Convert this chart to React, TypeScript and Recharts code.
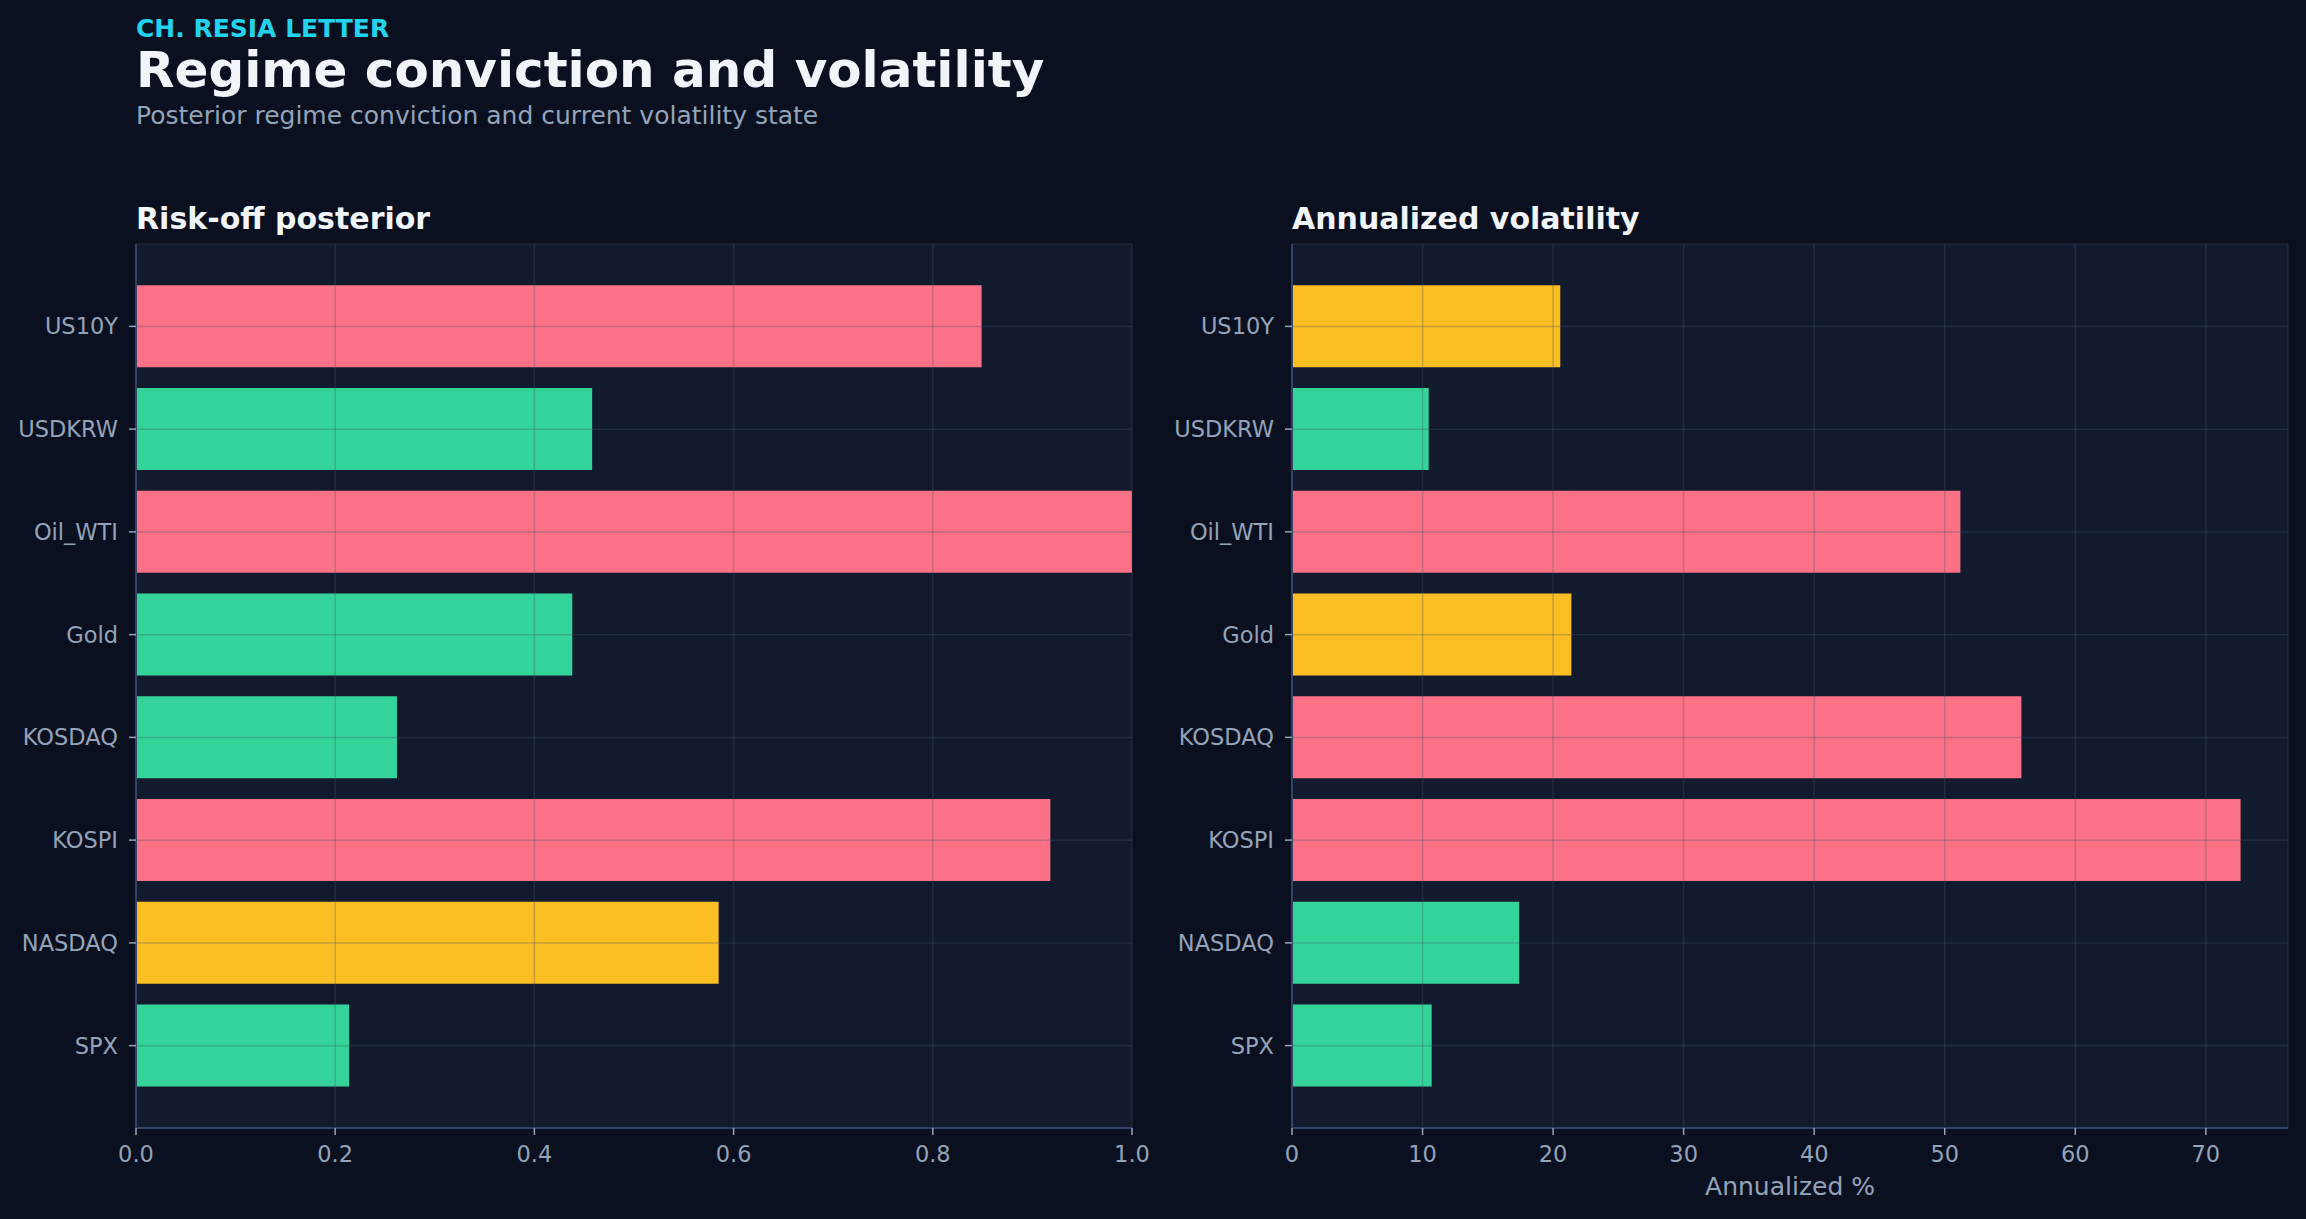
import React from 'react';
import { BarChart, Bar, Cell, XAxis, YAxis, CartesianGrid } from 'recharts';

// top-to-bottom order, as drawn
const ASSETS = ['US10Y', 'USDKRW', 'Oil_WTI', 'Gold', 'KOSDAQ', 'KOSPI', 'NASDAQ', 'SPX'];
const RISK_OFF = [0.849, 0.458, 1.0, 0.438, 0.262, 0.918, 0.585, 0.214];
const RISK_OFF_COLORS = ['#fb7185', '#34d399', '#fb7185', '#34d399', '#34d399', '#fb7185', '#fbbf24', '#34d399'];
const VOLATILITY = [20.55, 10.47, 51.2, 21.4, 55.87, 72.66, 17.4, 10.7];
const VOL_COLORS = ['#fbbf24', '#34d399', '#fb7185', '#fbbf24', '#fb7185', '#fb7185', '#34d399', '#34d399'];
const RISK_TICKS = [0, 0.2, 0.4, 0.6, 0.8, 1.0];
const VOL_TICKS = [0, 10, 20, 30, 40, 50, 60, 70];

const FONT = '"DejaVu Sans", sans-serif';
const PAGE_BG = '#0b1020';
const PLOT_BG = '#121a2e';
const SPINE = '#334366';
const MUTED = '#94a3b8';

const riskData = ASSETS.map((name, i) => ({ name, value: RISK_OFF[i] }));
const volData = ASSETS.map((name, i) => ({ name, value: VOLATILITY[i] }));

interface PanelProps {
  data: { name: string; value: number }[];
  colors: string[];
  ticks: number[];
  domain: any;
  fmt: (v: number) => string;
  xLabel?: string;
}

const Panel: React.FC<PanelProps> = ({ data, colors, ticks, domain, fmt, xLabel }) => (
  <BarChart
    width={1160}
    height={1219}
    data={data}
    layout="vertical"
    margin={{ top: 244, right: 28, bottom: 0, left: 0 }}
    barCategoryGap="10%"
  >
    {/* plot background */}
    <CartesianGrid fill={PLOT_BG} horizontal={false} vertical={false} stroke="none" />
    <XAxis
      type="number"
      domain={domain}
      ticks={ticks}
      tickFormatter={fmt}
      height={91}
      tickSize={7}
      tickMargin={11}
      axisLine={{ stroke: SPINE, strokeWidth: 2 }}
      tickLine={{ stroke: MUTED, strokeWidth: 1.5 }}
      tick={{ fill: MUTED, fontSize: 22.5, fontFamily: FONT }}
      label={xLabel ? { value: xLabel, position: 'insideBottom', offset: 24, fill: MUTED, fontSize: 25, fontFamily: FONT } : undefined}
    />
    <XAxis xAxisId="top" orientation="top" type="number" domain={domain} height={0} tick={false} tickLine={false}
      axisLine={{ stroke: SPINE, strokeWidth: 2 }} />
    <YAxis
      type="category"
      dataKey="name"
      width={136}
      padding={{ top: 31, bottom: 31 }}
      tickSize={7}
      tickMargin={11}
      axisLine={{ stroke: SPINE, strokeWidth: 2 }}
      tickLine={{ stroke: MUTED, strokeWidth: 1.5 }}
      tick={{ fill: MUTED, fontSize: 22.5, fontFamily: FONT }}
    />
    <YAxis yAxisId="right" orientation="right" type="category" dataKey="name" width={0} tick={false} tickLine={false}
      axisLine={{ stroke: SPINE, strokeWidth: 2 }} />
    <Bar dataKey="value" isAnimationActive={false}>
      {data.map((d, i) => (
        <Cell key={d.name} fill={colors[i]} />
      ))}
    </Bar>
    {/* grid lines sit on top of the bars */}
    <CartesianGrid stroke="#475569" strokeOpacity={0.3} strokeWidth={1.5} zIndex={450} />
  </BarChart>
);

export default function App() {
  return (
    <div style={{ position: 'relative', width: 2306, height: 1219, background: PAGE_BG, overflow: 'hidden', fontFamily: FONT }}>
      <style>{`body{margin:0;background:${PAGE_BG}}`}</style>
      <div style={{ position: 'absolute', left: 0, top: 0 }}>
        <Panel data={riskData} colors={RISK_OFF_COLORS} ticks={RISK_TICKS} domain={[0, 1]} fmt={(v) => v.toFixed(1)} />
      </div>
      <div style={{ position: 'absolute', left: 1156, top: 0 }}>
        <Panel
          data={volData}
          colors={VOL_COLORS}
          ticks={VOL_TICKS}
          domain={[0, (max: number) => max * 1.05]}
          fmt={(v) => String(v)}
          xLabel="Annualized %"
        />
      </div>
      <svg width={2306} height={260} style={{ position: 'absolute', left: 0, top: 0, pointerEvents: 'none' }}>
        <text x={136} y={37} fill="#22d3ee" fontSize={25} fontWeight="bold" fontFamily={FONT}>CH. RESIA LETTER</text>
        <text x={136} y={87} fill="#f1f5f9" fontSize={50} fontWeight="bold" fontFamily={FONT}>Regime conviction and volatility</text>
        <text x={136} y={124} fill={MUTED} fontSize={25} fontFamily={FONT}>Posterior regime conviction and current volatility state</text>
        <text x={136} y={229} fill="#f1f5f9" fontSize={30} fontWeight="bold" fontFamily={FONT}>Risk-off posterior</text>
        <text x={1292} y={229} fill="#f1f5f9" fontSize={30} fontWeight="bold" fontFamily={FONT}>Annualized volatility</text>
      </svg>
    </div>
  );
}
